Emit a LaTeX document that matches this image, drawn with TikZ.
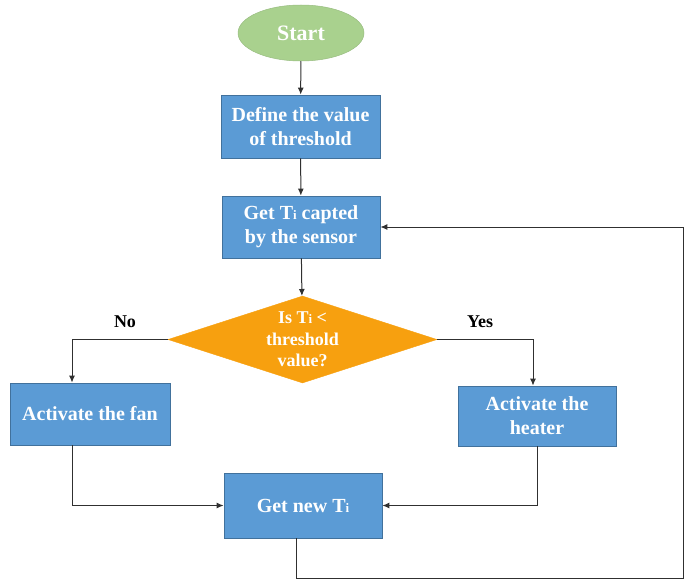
\documentclass[tikz,border=0pt]{standalone}
\usepackage{fontspec}
\setmainfont{Liberation Serif}
\usetikzlibrary{shapes.geometric,arrows.meta}
\definecolor{boxblue}{HTML}{5B9BD5}
\definecolor{boxedge}{HTML}{41719C}
\definecolor{startgreen}{HTML}{A9D18E}
\definecolor{decorange}{HTML}{F7A00F}
\definecolor{linegray}{HTML}{303030}
\newcommand{\Ti}{T{\fontsize{13}{13}\selectfont i}}
\tikzset{
  procbox/.style={rectangle, draw=boxedge, line width=0.8pt, fill=boxblue, text=white,
    align=center, inner sep=0pt, font=\bfseries\fontsize{20}{24}\selectfont},
  flowline/.style={draw=linegray, line width=1pt, -{Latex[length=7pt,width=6pt]}},
  plainline/.style={draw=linegray, line width=1pt},
  branchlabel/.style={font=\bfseries\fontsize{18}{20}\selectfont, text=black}
}
\begin{document}
\begin{tikzpicture}[x=1pt,y=-1pt]
\useasboundingbox (0,0) rectangle (684,583);
\node[ellipse, fill=startgreen, draw=startgreen!90!black, line width=0.5pt, minimum width=126, minimum height=56,
  text=white, font=\bfseries\fontsize{22}{24}\selectfont] (start) at (301,33) {Start};
\node[procbox, minimum width=159, minimum height=63] (def) at (300.5,126.5) {Define the value\\of threshold};
\node[procbox, minimum width=158, minimum height=62] (get) at (301,227) {Get \Ti{} capted\\by the sensor};
\node[diamond, fill=decorange, draw=decorange, minimum width=269, minimum height=87, inner sep=0pt] (dec) at (302.5,339.5) {};
\node[text=white, align=center, font=\bfseries\fontsize{18}{21.5}\selectfont] (dectext) at (dec.center) {Is \Ti{} <\\threshold\\value?};
\node[procbox, minimum width=160, minimum height=62] (fan) at (90,414) {Activate the fan};
\node[procbox, minimum width=158, minimum height=60] (heat) at (537,416) {Activate the\\heater};
\node[procbox, minimum width=158, minimum height=65] (new) at (303,505.5) {Get new \Ti};
\node[branchlabel] (no) at (125,322) {No};
\node[branchlabel] (yes) at (480,322) {Yes};
\coordinate (rail) at (683,578);

\draw[flowline] (start) -- (def);
\draw[flowline] (def) -- (get);
\draw[flowline] (get) -- (dec);
\draw[flowline] (dec.west) -| ([xshift=-18pt]fan.north);
\draw[flowline] (dec.east) -| ([xshift=-4pt]heat.north);
\draw[flowline] ([xshift=-18pt]fan.south) |- (new.west);
\draw[flowline] (heat.south) |- (new.east);
\draw[flowline] ([xshift=-7pt]new.south) |- (rail) |- (get.east);
\end{tikzpicture}
\end{document}
